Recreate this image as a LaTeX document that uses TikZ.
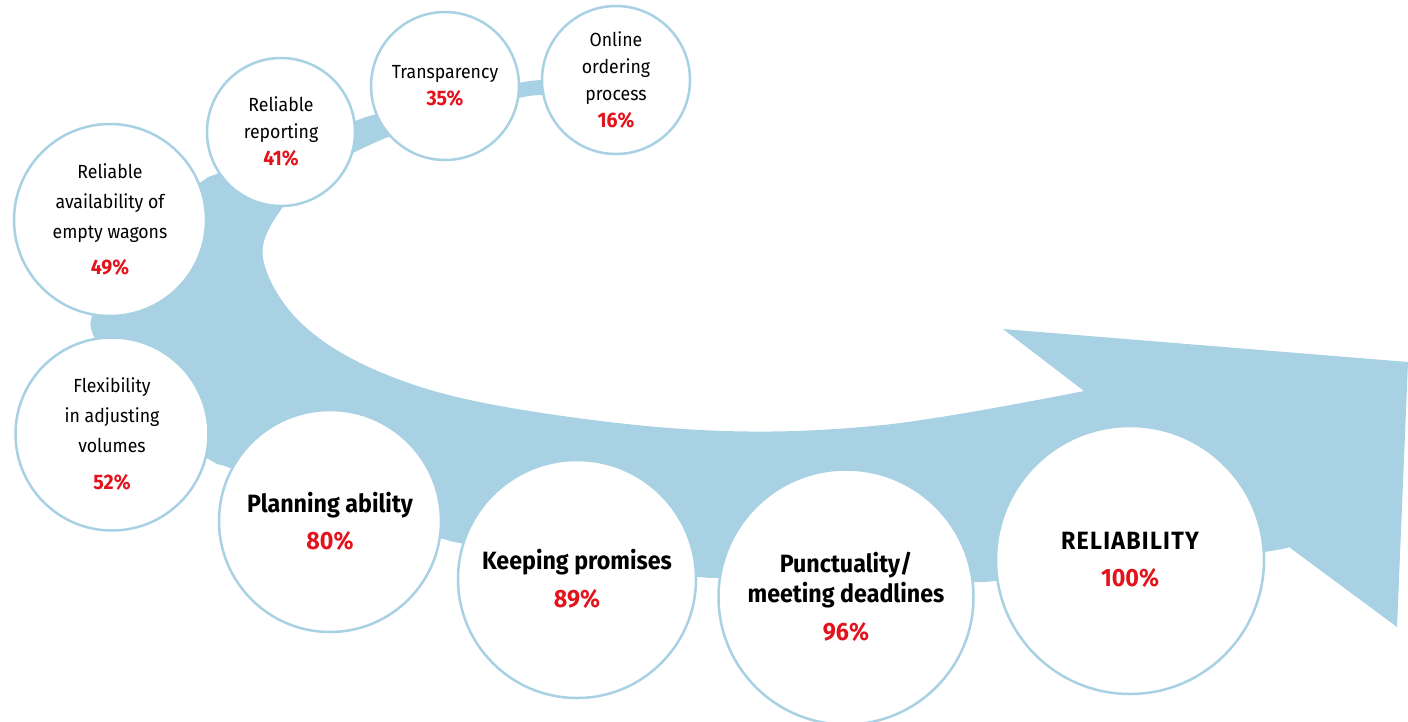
\documentclass[tikz,border=0pt]{standalone}
\usepackage{fontspec}
\setmainfont{Fira Sans}[FakeStretch=0.93]
\usetikzlibrary{positioning}

\definecolor{bandblue}{HTML}{A8D1E3}
\definecolor{pctred}{HTML}{E3131D}

\newcommand{\pct}[1]{\textcolor{pctred}{\textbf{#1\%}}}
\newcommand{\smallpct}[1]{{\fontsize{21}{27}\selectfont\pct{#1}}}

\tikzset{
  goal/.style={circle, draw=bandblue, line width=2.5pt, fill=white,
    align=center, inner sep=0pt},
  smallgoal/.style={goal, font=\fontsize{19}{27}\selectfont},
  biggoal/.style={goal, font=\bfseries\fontsize{25}{30}\selectfont}
}

\begin{document}
\begin{tikzpicture}[x=1pt,y=-1pt]
  \useasboundingbox (0,0) rectangle (1408,721);

  % the curved band with its arrow head
  \fill[bandblue] plot[smooth, tension=0.55] coordinates {
      (600,78) (542,80) (518,83) (445,97) (377,114) (355,121) (282,148)
      (219,173) (201,182) (140,228) (100,285) (92,315) (94,337) (130,410)
      (210,460) (230,468) (330,508) (440,538) (460,543) (580,565)
      (700,577) (718,578) (847,582) (971,582) (996,581) (1130,570)
      (1264,552) (1289,547)}
    -- (1397,627) -- (1408,362) -- (1003,329) -- (1084,391)
    -- plot[smooth, tension=0.6] coordinates {
      (1084,391) (883,425) (700,430) (500,406) (380,372) (300,322)
      (263,258) (282,208) (320,172) (353,153) (388,137)
      (450,112) (518,98) (542,95) (600,94)}
    -- cycle;

  % small circles
  \node (avail) [smallgoal, minimum size=192pt, font=\fontsize{19}{30}\selectfont]
    at (110,220) { Reliable\\ availability of\\ empty wagons\\[6pt] \smallpct{49} };
  \node (flex) [smallgoal, minimum size=193pt, font=\fontsize{19}{30}\selectfont]
    at (112,434) { Flexibility\\ in adjusting\\ volumes\\[7pt] \smallpct{52} };
  \node (report) [smallgoal, minimum size=148pt] at (281,132)
    { Reliable\\ reporting\\ \smallpct{41} };
  \node (trans) [smallgoal, minimum size=148pt] at (445,86)
    { Transparency\\ \smallpct{35} };
  \node (online) [smallgoal, minimum size=148pt] at (616,80)
    { Online\\ ordering\\ process\\ \smallpct{16} };

  % large circles
  \node (plan) [biggoal, minimum size=222pt] at (330,521)
    { Planning ability\\[7pt] \pct{80} };
  \node (keep) [biggoal, minimum size=238pt] at (577,579)
    { Keeping promises\\[8pt] \pct{89} };
  \node (punct) [biggoal, minimum size=255pt] at (846,597)
    { Punctuality/\\ meeting deadlines\\[8pt] \pct{96} };
  \node (rel) [biggoal, minimum size=268pt] at (1130,560)
    { {\addfontfeature{LetterSpace=5}RELIABILITY}\\[7pt] \pct{100} };
\end{tikzpicture}
\end{document}
